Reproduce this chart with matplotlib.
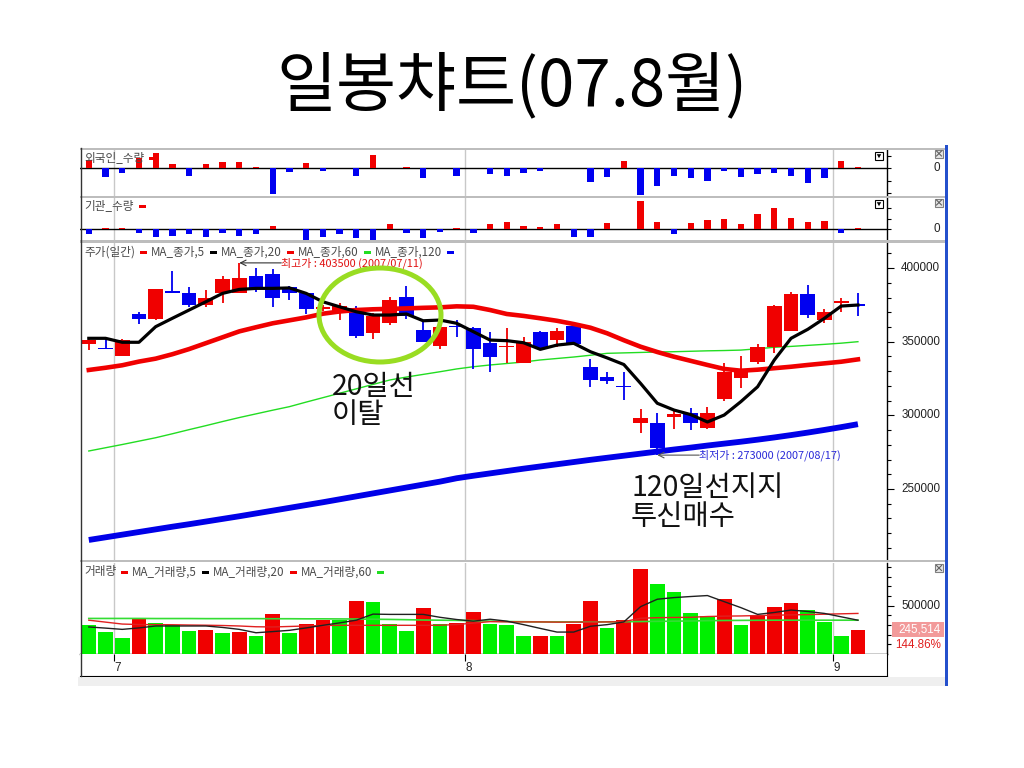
import numpy as np
import matplotlib
matplotlib.use("Agg")
import matplotlib.pyplot as plt
from matplotlib.patches import Ellipse, Rectangle, Polygon
import matplotlib.transforms as mtransforms

plt.rcParams['font.family'] = ['Noto Sans CJK KR', 'DejaVu Sans']

# ---------------- data (prices in thousand won) ----------------
open_k = [348.4, 346.0, 340.5, 368.7, 365.2, 384.6, 382.8, 374.9, 383.2, 383.2,
          394.6, 395.7, 387.3, 383.3, 372.5, 369.3, 373.1, 355.7, 362.9, 380.1,
          357.9, 347.1, 360.5, 359.1, 349.3, 346.2, 335.8, 356.8, 351.1, 360.8,
          333.0, 325.8, 319.9, 295.0, 295.0, 298.7, 301.8, 291.6, 310.9, 325.1,
          336.4, 346.2, 357.5, 382.4, 364.7, 376.0, 375.4]
close_k = [351.1, 345.2, 351.1, 365.3, 385.5, 383.0, 375.0, 379.4, 392.3, 393.0,
           386.2, 379.4, 382.8, 372.0, 373.5, 374.2, 354.1, 367.6, 378.3, 367.4,
           349.6, 359.8, 359.8, 344.8, 339.4, 347.0, 350.0, 345.5, 357.5, 348.2,
           324.0, 323.3, 319.2, 298.4, 278.0, 300.7, 295.0, 301.4, 329.6, 329.6,
           346.6, 374.4, 382.4, 368.1, 369.9, 377.6, 374.6]
high_k = [352.5, 351.5, 351.5, 370.0, 386.0, 398.0, 387.3, 385.0, 394.6, 403.5,
          400.2, 399.3, 387.8, 384.0, 375.0, 376.0, 374.0, 369.3, 380.1, 387.8,
          363.6, 360.5, 364.7, 360.0, 356.8, 359.1, 353.4, 357.5, 359.1, 361.5,
          338.0, 329.6, 329.6, 304.1, 301.4, 303.6, 304.8, 305.5, 335.3, 340.3,
          348.4, 375.0, 383.9, 388.5, 372.0, 379.4, 382.8]
low_k = [344.3, 345.0, 340.0, 361.8, 364.5, 382.8, 373.8, 373.8, 376.0, 383.0,
         383.9, 373.7, 378.3, 368.8, 371.0, 364.7, 352.3, 351.6, 361.3, 365.2,
         349.6, 344.8, 353.4, 331.5, 329.6, 335.8, 335.5, 344.8, 346.6, 347.5,
         319.0, 321.1, 310.4, 287.8, 273.0, 290.5, 290.0, 290.5, 310.0, 318.4,
         334.8, 342.5, 357.0, 365.9, 362.5, 370.3, 367.6]

ma5_k = [352.3, 352.3, 349.6, 349.6, 360.2, 365.9, 371.5, 377.1, 382.8, 385.5,
         386.2, 386.2, 386.5, 382.8, 377.1, 373.7, 370.3, 368.1, 368.1, 368.8,
         364.2, 364.7, 362.5, 356.8, 351.1, 350.7, 349.3, 344.8, 347.7, 348.9,
         343.2, 339.0, 334.5, 321.7, 308.2, 303.6, 300.5, 295.5, 300.2, 309.3,
         319.4, 337.6, 352.3, 358.4, 365.9, 374.2, 374.9]
ma20_k = [330.8, 332.3, 334.0, 336.5, 338.5, 341.5, 345.0, 349.0, 353.0, 357.0,
          359.8, 362.5, 364.5, 366.5, 369.0, 370.5, 371.5, 372.0, 372.3, 372.6,
          373.0, 373.3, 374.0, 373.7, 371.5, 368.8, 367.5, 365.9, 364.2, 362.0,
          359.5, 355.7, 351.0, 346.6, 343.0, 339.8, 337.0, 334.2, 331.5, 330.3,
          331.0, 332.0, 333.0, 334.2, 335.3, 336.4, 338.0]
ma60_k = [275.8, 278.0, 280.2, 282.5, 284.8, 287.5, 290.3, 293.0, 295.8, 298.5,
          301.0, 303.5, 305.9, 309.0, 312.0, 315.0, 318.0, 321.0, 324.0, 326.0,
          327.8, 329.6, 331.5, 333.0, 334.2, 335.2, 336.2, 337.6, 338.6, 339.6,
          340.8, 342.1, 342.4, 342.7, 343.0, 343.2, 343.5, 343.8, 344.0, 344.3,
          345.2, 346.2, 346.8, 347.5, 348.2, 349.0, 350.0]
ma120_k = [215.4, 217.2, 219.0, 220.8, 222.6, 224.4, 226.1, 227.9, 229.7, 231.5,
           233.4, 235.3, 237.2, 239.1, 241.0, 243.0, 245.0, 247.0, 249.0, 251.0,
           253.0, 255.0, 257.3, 259.0, 260.6, 262.2, 263.8, 265.3, 266.8, 268.3,
           269.8, 271.2, 272.6, 274.0, 275.4, 276.8, 278.1, 279.5, 280.8, 282.1,
           283.5, 285.0, 286.6, 288.3, 290.1, 292.0, 294.0]

# volume in thousand shares
volume_k = [297, 227, 164, 368, 322, 304, 238, 252, 217, 227,
            182, 410, 217, 311, 347, 347, 549, 539, 308, 238,
            479, 311, 322, 430, 315, 304, 182, 182, 182, 315,
            549, 269, 350, 885, 728, 637, 420, 392, 567, 304,
            402, 490, 525, 455, 332, 182, 245.514]
volume_up = list("GGGRGGGRGRGRGRRGRGGGRGRRGGGRGRRGRRGGGGRGRRRGGGR")
vma5_k = [280, 268, 255, 270, 290, 290, 290, 290, 275, 255,
          220, 232, 245, 270, 297, 322, 350, 413, 410, 410,
          410, 380, 357, 340, 360, 340, 304, 265, 227, 227,
          287, 304, 332, 490, 567, 584, 595, 605, 542, 480,
          410, 430, 455, 440, 420, 385, 350]
vma20_k = [350, 330, 310, 305, 304, 303, 300, 298, 295, 290,
           282, 280, 285, 290, 295, 297, 297, 297, 297, 297,
           297, 298, 305, 320, 335, 333, 332, 332, 330, 330,
           330, 332, 335, 370, 376, 378, 380, 388, 392, 394,
           398, 402, 405, 408, 412, 416, 420]
vma60_k = [368, 368, 368, 368, 367, 367, 367, 366, 366, 366,
           366, 365, 365, 364, 364, 363, 362, 360, 358, 355,
           352, 350, 348, 345, 340, 336, 334, 332, 332, 332,
           332, 333, 334, 336, 338, 340, 342, 345, 347, 348,
           349, 350, 350, 350, 350, 350, 350]

foreign_qty = [8.3, -8.3, -5, 10, 15, 4, -7.3, 4, 6, 6,
               1.7, -25.7, -4, 5, -2.7, 0, -7.3, 13.3, 0, 1.7,
               -9.3, 0, -7.3, 0, -6, -7.3, -5, -2.7, 0, 0,
               -14, -8.3, 7.7, -26.7, -17.3, -7.3, -9.3, -12.7, -2.7, -8.3,
               -6, -5, -7.3, -15, -9.3, 7.7, 1.7]
inst_qty = [-5, 1.7, 1, -4, -7.3, -6.3, -5, -7.3, -4, -6.3,
            -5, 3.7, 0, -10.7, -7.3, -5, -8.3, -10.7, 5, -3.3,
            -8.3, -2.7, 1, -4, 5, 7, 3.7, 2.7, 5, -7.3,
            -7.3, 6, 0, 28.3, 7, -5, 6, 9.3, 10.3, 5,
            15, 21, 11.7, 7, 8.3, -4, 1]

month_first_idx = [2, 23, 45]
month_labels = ['7', '8', '9']
price_ticks = [250000, 300000, 350000, 400000]
hi_date, lo_date = '2007/07/11', '2007/08/17'
volume_pct = '144.86%'

# ---------------- setup ----------------
o = np.array(open_k) * 1000
c = np.array(close_k) * 1000
h = np.array(high_k) * 1000
l = np.array(low_k) * 1000
n = len(o)
idx = np.arange(n)

RED = '#f00000'
BLUE = '#0000f0'
GREEN = '#00f000'
GRID = '#c8c8c8'

W, H = 1024, 768
fig = plt.figure(figsize=(W / 100, H / 100), dpi=100)
fig.patch.set_facecolor('white')


def add_ax(x0, y0, x1, y1):
    return fig.add_axes([x0 / W, 1 - y1 / H, (x1 - x0) / W, (y1 - y0) / H])


XL, XR = 80, 887
X0, DX = 88.8, 16.72
xlim = ((XL - X0) / DX, (XR - X0) / DX)


def style(ax, right=True):
    ax.set_xlim(*xlim)
    for s in ['top', 'left', 'bottom']:
        ax.spines[s].set_visible(False)
    ax.spines['right'].set_visible(right)
    ax.spines['right'].set_linewidth(1.0)
    ax.set_xticks([])
    ax.yaxis.tick_right()
    ax.tick_params(axis='y', which='both', direction='out', length=3,
                   width=0.8, labelright=False, labelleft=False)
    for m in month_first_idx:
        ax.axvline(m - 0.5, color=GRID, lw=1.0, zorder=0)


num_font = {'family': 'Liberation Sans', 'size': 8.4}


def right_label(ax, yval, text, color='#222222'):
    tr = mtransforms.blended_transform_factory(fig.transFigure, ax.transData)
    ax.text(940 / W, yval, text, transform=tr, ha='right', va='center',
            color=color, fontdict=num_font, clip_on=False)


# ---------------- foreign panel ----------------
ax_f = add_ax(XL, 150, XR, 196)
style(ax_f)
ax_f.set_ylim(-27.7, 18.3)
fq = np.array(foreign_qty)
ax_f.bar(idx, fq, width=0.38, color=np.where(fq >= 0, RED, BLUE), zorder=3)
ax_f.axhline(0, color='black', lw=1.0, zorder=2)
ax_f.set_yticks([-25, -12.5, 0, 12.5])
right_label(ax_f, 0, '0')

# ---------------- institution panel ----------------
ax_i = add_ax(XL, 198, XR, 240)
style(ax_i)
ax_i.set_ylim(-10.7, 31.3)
iq = np.array(inst_qty)
ax_i.bar(idx, iq, width=0.38, color=np.where(iq >= 0, RED, BLUE), zorder=3)
ax_i.axhline(0, color='black', lw=1.0, zorder=2)
ax_i.set_yticks([0, 10.5, 21])
right_label(ax_i, 0, '0')

# ---------------- price panel ----------------
ax_p = add_ax(XL, 243, XR, 560)
style(ax_p)
ax_p.set_ylim(201800, 417000)
ax_p.set_yticks(price_ticks)
ax_p.set_yticks(np.arange(210000, 420000, 10000), minor=True)
ax_p.tick_params(axis='y', which='major', length=5)
for t in price_ticks:
    right_label(ax_p, t, f'{t}')

up = c >= o
cols = np.where(up, RED, BLUE)
body = np.abs(c - o)
min_b = 900
blo = np.where(body < min_b, (o + c) / 2 - min_b / 2, np.minimum(o, c))
bh = np.maximum(body, min_b)
ax_p.plot(idx, np.array(ma120_k) * 1000, color='#0000e8', lw=4.2, zorder=2,
          solid_capstyle='butt')
ax_p.plot(idx, np.array(ma60_k) * 1000, color='#22dd22', lw=1.0, zorder=2)
ax_p.vlines(idx, l, h, colors=cols, lw=1.3, zorder=3)
ax_p.bar(idx, bh, bottom=blo, width=0.88, color=cols, linewidth=0, zorder=4)
ax_p.plot(idx, np.array(ma20_k) * 1000, color='#f00000', lw=3.3, zorder=5)
ax_p.plot(idx, np.array(ma5_k) * 1000, color='black', lw=2.3, zorder=6)

hi_i = int(np.argmax(h))
lo_i = int(np.argmin(l))
ax_p.annotate('', xy=(hi_i, h[hi_i]), xytext=(42, 0), textcoords='offset pixels',
              arrowprops=dict(arrowstyle='->', color='#333333', lw=0.8,
                              shrinkA=0, shrinkB=0), zorder=8)
ax_p.annotate(f'최고가 : {int(h[hi_i])} ({hi_date})', xy=(hi_i, h[hi_i]),
              xytext=(42, 0), textcoords='offset pixels', ha='left', va='center',
              fontsize=7.9, color='#e01010', zorder=8)
ax_p.annotate('', xy=(lo_i, l[lo_i]), xytext=(42, 0), textcoords='offset pixels',
              arrowprops=dict(arrowstyle='->', color='#555555', lw=0.8,
                              shrinkA=0, shrinkB=0), zorder=8)
ax_p.annotate(f'최저가 : {int(l[lo_i])} ({lo_date})', xy=(lo_i, l[lo_i]),
              xytext=(42, 0), textcoords='offset pixels', ha='left', va='center',
              fontsize=7.9, color='#2a2ad8', zorder=8)

# ---------------- volume panel ----------------
ax_v = add_ax(XL, 563, XR, 654)
style(ax_v)
ax_v.spines['bottom'].set_visible(True)
ax_v.spines['bottom'].set_linewidth(1.0)
ax_v.set_ylim(0, 942000)
ax_v.set_yticks([500000])
ax_v.set_yticks(np.arange(100000, 942000, 100000), minor=True)
ax_v.tick_params(axis='y', which='major', length=5)
right_label(ax_v, 500000, '500000')
vol = np.array(volume_k) * 1000
vcols = [RED if u == 'R' else GREEN for u in volume_up]
ax_v.bar(idx, vol, width=0.88, color=vcols, linewidth=0, zorder=3)
ax_v.plot(idx, np.array(vma60_k) * 1000, color='#33dd33', lw=1.2, zorder=4)
ax_v.plot(idx, np.array(vma20_k) * 1000, color='#e02020', lw=1.0, zorder=5)
ax_v.plot(idx, np.array(vma5_k) * 1000, color='#202020', lw=1.0, zorder=6)

# ---------------- date axis ----------------
ax_d = add_ax(XL, 654, XR, 676)
ax_d.set_xlim(*xlim)
ax_d.set_ylim(0, 1)
for s in ['top', 'left']:
    ax_d.spines[s].set_visible(False)
ax_d.set_yticks([])
ax_d.set_xticks([m - 0.5 for m in month_first_idx])
ax_d.tick_params(axis='x', bottom=False, top=True, direction='in', length=5,
                 labelbottom=False)
for m, lab in zip(month_first_idx, month_labels):
    ax_d.text(m - 0.45, 0.38, lab, ha='left', va='center', fontdict=num_font,
              color='#222222')

# ---------------- overlay (frame, legends, notes) ----------------
ax_o = add_ax(0, 0, W, H)
ax_o.set_xlim(0, W)
ax_o.set_ylim(H, 0)
ax_o.axis('off')
ax_o.patch.set_alpha(0)
ax_o.set_zorder(10)

ax_o.text(512, 87, '일봉챠트(07.8월)', ha='center', va='center', fontsize=47,
          color='black')

# separators
for y0 in [147.5, 195.5, 240.2, 559.8]:
    ax_o.add_patch(Rectangle((80, y0), 865, 2.6, color='#bdbdbd', lw=0))
ax_o.plot([80.5, 80.5], [148, 676], color='#333333', lw=1.0)
ax_o.add_patch(Rectangle((78, 676.5), 870, 9.5, color='#efefef', lw=0))
ax_o.add_patch(Rectangle((944.5, 145), 3.5, 541, color='#2450cc', lw=0))

# icons
for yy in [152, 200]:
    ax_o.add_patch(Rectangle((875, yy), 8, 8, facecolor='white',
                             edgecolor='black', lw=0.8))
    ax_o.add_patch(Polygon([[876.8, yy + 2.2], [881.2, yy + 2.2], [879, yy + 6.2]],
                           closed=True, color='black', lw=0))
for yy in [149.5, 198.5, 564]:
    ax_o.add_patch(Rectangle((935, yy), 8, 8, facecolor='#e6e6e6',
                             edgecolor='#808080', lw=0.8))
    ax_o.plot([936.5, 941.5], [yy + 1.5, yy + 6.5], color='#606060', lw=0.8)
    ax_o.plot([936.5, 941.5], [yy + 6.5, yy + 1.5], color='#606060', lw=0.8)

LEG = '#4a4a4a'
LFS = 8.4

fig.canvas.draw()
renderer = fig.canvas.get_renderer()
inv = ax_o.transData.inverted()


def legend_row(y, x, items):
    # items: (label, marker colour); laid out left to right
    for txt, col in items:
        t = ax_o.text(x, y, txt, ha='left', va='center', fontsize=LFS, color=LEG)
        bb = t.get_window_extent(renderer=renderer)
        x_end = inv.transform((bb.x1, bb.y0))[0]
        ax_o.add_patch(Rectangle((x_end + 5, y - 1.5), 7, 3, color=col, lw=0))
        x = x_end + 16


legend_row(158, 84, [('외국인_수량', RED)])
legend_row(206, 84, [('기관_수량', RED)])
legend_row(252, 84, [('주가(일간)', RED), ('MA_종가,5', 'black'),
                     ('MA_종가,20', RED), ('MA_종가,60', '#22dd22'),
                     ('MA_종가,120', BLUE)])
legend_row(572, 84, [('거래량', RED), ('MA_거래량,5', 'black'),
                     ('MA_거래량,20', RED), ('MA_거래량,60', '#22dd22')])

# last volume box
ax_o.add_patch(Rectangle((891.5, 621.5), 52.5, 15.5, color='#f29a9a', lw=0))
ax_o.text(941, 629.3, f'{volume_k[-1] * 1000:,.0f}', ha='right', va='center',
          color='white', fontdict=num_font)
ax_o.text(941, 645, volume_pct, ha='right', va='center', color='#e02020',
          fontdict=num_font)

# hand-drawn notes
ax_o.add_patch(Ellipse((380, 315), 122, 94, fill=False, edgecolor='#99dd22',
                       lw=3.6))
NFS = 20.5
ax_o.text(332, 387, '20일선', ha='left', va='center', fontsize=NFS, color='#111111')
ax_o.text(332, 415, '이탈', ha='left', va='center', fontsize=NFS, color='#111111')
ax_o.text(631, 488, '120일선지지', ha='left', va='center', fontsize=NFS,
          color='#111111')
ax_o.text(631, 517, '투신매수', ha='left', va='center', fontsize=NFS,
          color='#111111')

fig.savefig('out.png', dpi=100, facecolor='white')
